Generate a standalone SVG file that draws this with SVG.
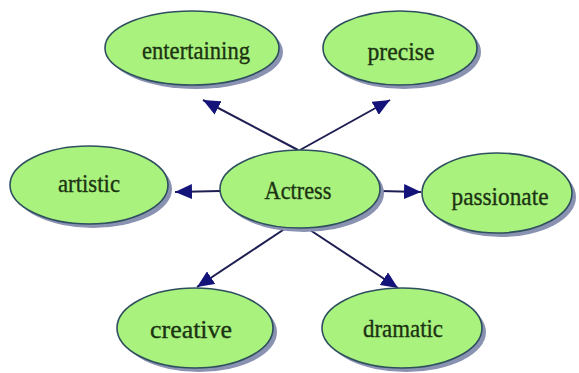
<svg xmlns="http://www.w3.org/2000/svg" width="579" height="373" viewBox="0 0 579 373">
<style>
.shadow{fill:#8a92b2;}
.node{fill:#a9f27e;stroke:#2e4f5e;stroke-width:1.6;}
.label{font-family:"Liberation Serif","Times New Roman",serif;font-size:25px;fill:#1c3312;stroke:#1c3312;stroke-width:0.35;text-anchor:middle;}
.edge{stroke:#1e1e52;stroke-width:2;fill:none;marker-end:url(#arrow);}
</style>
<defs>
<marker id="arrow" markerUnits="userSpaceOnUse" markerWidth="19" markerHeight="15" refX="17" refY="7.5" orient="auto">
<path d="M0,0 L17,7.5 L0,15 z" fill="#13137a"/>
</marker>
</defs>
<rect width="579" height="373" fill="#ffffff"/>
<g id="connectors">
<line class="edge" x1="298" y1="150" x2="203" y2="100"/>
<line class="edge" x1="300" y1="150" x2="390" y2="100"/>
<line class="edge" x1="220" y1="191" x2="175" y2="192"/>
<line class="edge" x1="380" y1="191" x2="421" y2="192"/>
<line class="edge" x1="286" y1="228" x2="197" y2="287"/>
<line class="edge" x1="307" y1="228" x2="398" y2="288"/>
</g>
<g id="entertaining">
<ellipse class="shadow" cx="196" cy="52" rx="87" ry="37"/>
<ellipse class="node" cx="192" cy="48" rx="87" ry="37"/>
<text class="label" x="196" y="59" textLength="108" lengthAdjust="spacingAndGlyphs">entertaining</text>
</g>
<g id="precise">
<ellipse class="shadow" cx="404" cy="52" rx="77" ry="37"/>
<ellipse class="node" cx="400" cy="48" rx="77" ry="37"/>
<text class="label" x="401" y="60" textLength="67" lengthAdjust="spacingAndGlyphs">precise</text>
</g>
<g id="actress">
<ellipse class="shadow" cx="304" cy="193" rx="80" ry="39"/>
<ellipse class="node" cx="300" cy="189" rx="80" ry="39"/>
<text class="label" x="298" y="199" textLength="67" lengthAdjust="spacingAndGlyphs">Actress</text>
</g>
<g id="artistic">
<ellipse class="shadow" cx="93" cy="189" rx="79" ry="39"/>
<ellipse class="node" cx="89" cy="185" rx="79" ry="39"/>
<text class="label" x="89" y="192" textLength="62" lengthAdjust="spacingAndGlyphs">artistic</text>
</g>
<g id="passionate">
<ellipse class="shadow" cx="501" cy="197" rx="75" ry="40"/>
<ellipse class="node" cx="497" cy="193" rx="75" ry="40"/>
<text class="label" x="500" y="205" textLength="97" lengthAdjust="spacingAndGlyphs">passionate</text>
</g>
<g id="creative">
<ellipse class="shadow" cx="199" cy="332" rx="78" ry="40"/>
<ellipse class="node" cx="195" cy="328" rx="78" ry="40"/>
<text class="label" x="191" y="338" textLength="82" lengthAdjust="spacingAndGlyphs">creative</text>
</g>
<g id="dramatic">
<ellipse class="shadow" cx="406" cy="332" rx="80" ry="40"/>
<ellipse class="node" cx="402" cy="328" rx="80" ry="40"/>
<text class="label" x="403" y="337" textLength="80" lengthAdjust="spacingAndGlyphs">dramatic</text>
</g>
</svg>
